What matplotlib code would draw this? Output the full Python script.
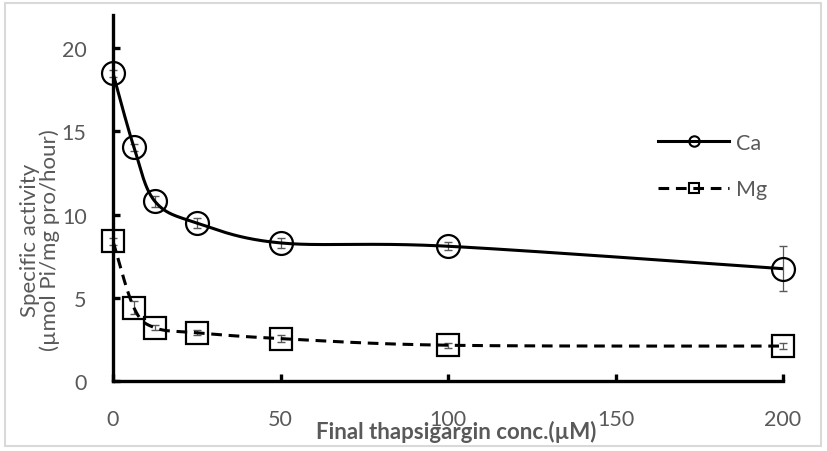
import numpy as np
import matplotlib
matplotlib.use('Agg')
import matplotlib.pyplot as plt
from matplotlib.lines import Line2D
from matplotlib.patches import Rectangle

plt.rcParams['font.family'] = ['Lato', 'DejaVu Sans']

# data
conc = [0, 6.25, 12.5, 25, 50, 100, 200]
ca = [18.5, 14.05, 10.8, 9.5, 8.3, 8.1, 6.75]
ca_err = [0.2, 0.2, 0.35, 0.3, 0.3, 0.25, 1.35]
mg = [8.4, 4.4, 3.2, 2.9, 2.55, 2.15, 2.1]
mg_err = [0.2, 0.4, 0.15, 0.15, 0.2, 0.15, 0.2]

grey = '#595959'


def smooth(x, y, n=40):
    # excel-style smoothed line: bezier with control points at 1/6 of neighbour span
    x = np.asarray(x, float)
    y = np.asarray(y, float)
    px, py = [], []
    k = len(x)
    for i in range(k - 1):
        x0, y0 = x[max(i - 1, 0)], y[max(i - 1, 0)]
        x3, y3 = x[min(i + 2, k - 1)], y[min(i + 2, k - 1)]
        c1x = x[i] + (x[i + 1] - x0) / 6
        c1y = y[i] + (y[i + 1] - y0) / 6
        c2x = x[i + 1] - (x3 - x[i]) / 6
        c2y = y[i + 1] - (y3 - y[i]) / 6
        t = np.linspace(0, 1, n)
        a, b, c, d = (1 - t) ** 3, 3 * t * (1 - t) ** 2, 3 * t ** 2 * (1 - t), t ** 3
        px.extend(a * x[i] + b * c1x + c * c2x + d * x[i + 1])
        py.extend(a * y[i] + b * c1y + c * c2y + d * y[i + 1])
    return np.array(px), np.array(py)


fig = plt.figure(figsize=(8.27, 4.52), dpi=100)
ax = fig.add_axes([113 / 827, 1 - 382 / 452, 670 / 827, 366 / 452])

sx, sy = smooth(conc, ca)
ax.plot(sx, sy, color='black', lw=2.2, zorder=3)
sx, sy = smooth(conc, mg)
ax.plot(sx, sy, color='black', lw=2.2, ls=(0, (3.5, 2.2)), zorder=3)

for yv, ev in [(ca, ca_err), (mg, mg_err)]:
    eb = ax.errorbar(conc, yv, yerr=ev, fmt='none', ecolor=grey, elinewidth=0.9, capsize=3, zorder=2)
    for art in eb.lines[1] + eb.lines[2]:
        art.set_clip_on(False)
ax.plot(conc, ca, ls='none', marker='o', ms=16.5, mfc='none', mec='black', mew=1.6, zorder=4, clip_on=False)
ax.plot(conc, mg, ls='none', marker='s', ms=15.5, mfc='none', mec='black', mew=1.6, zorder=4, clip_on=False)

ax.set_xlim(0, 200)
ax.set_ylim(0, 22)
ax.set_xticks([0, 50, 100, 150, 200])
ax.set_yticks([0, 5, 10, 15, 20])
for s in ['top', 'right']:
    ax.spines[s].set_visible(False)
for s in ['left', 'bottom']:
    ax.spines[s].set_linewidth(2.4)
ax.tick_params(axis='both', direction='in', length=5, width=2.4, colors='black',
               labelcolor=grey, labelsize=15.5)
ax.tick_params(axis='y', pad=19)
ax.tick_params(axis='x', pad=20)

fig.text(40 / 827, 1 - 240 / 452, 'Specific activity\n(µmol Pi/mg pro/hour)', rotation=90,
         ha='center', va='center', color=grey, fontsize=16, linespacing=1.0)
fig.text(456 / 827, 1 - 432 / 452, 'Final thapsigargin conc.(µM)', ha='center', va='center',
         color=grey, fontsize=16, fontweight='bold')

handles = [Line2D([], [], color='black', lw=2.2, marker='o', ms=7.5, mfc='none', mec='black', mew=1.5),
           Line2D([], [], color='black', lw=2.2, ls=(0, (3.5, 2.2)), marker='s', ms=7.5, mfc='none',
                  mec='black', mew=1.5)]
leg = ax.legend(handles, ['Ca', 'Mg'], loc='center left', bbox_to_anchor=(639 / 827, 1 - 167 / 452),
                bbox_transform=fig.transFigure, frameon=False, fontsize=15.5, handlelength=3.3,
                handletextpad=0.3, labelspacing=1.25, labelcolor=grey)

fig.patches.append(Rectangle((5 / 827, 5 / 452), 816 / 827, 443 / 452, transform=fig.transFigure,
                             fill=False, ec='#d9d9d9', lw=1.5))

fig.savefig('out.png', dpi=100)
